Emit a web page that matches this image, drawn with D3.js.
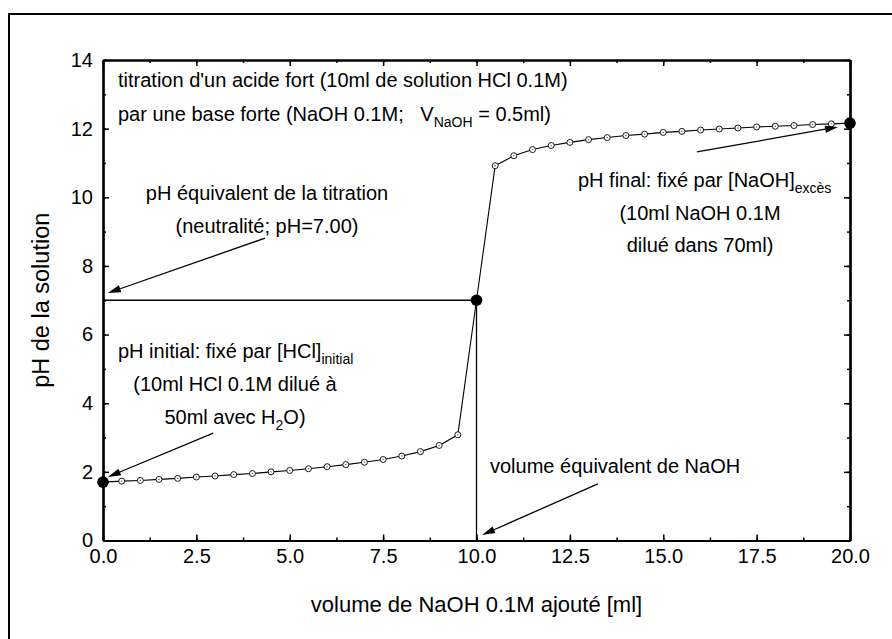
<!DOCTYPE html>
<html>
  <head>
    <meta charset="utf-8">
    <title>Titration acide fort / base forte</title>
    <script src="https://d3js.org/d3.v7.min.js"></script>
    <style>
      body { margin: 0; background: #fff; }
      svg text { font-family: "Liberation Sans", Arial, sans-serif; fill: #000; }
    </style>
  </head>
  <body>
    <div id="chart"></div>
    <script>
    // volumes de NaOH ajoutés (ml) et pH
    var volumes = [0, 0.5, 1, 1.5, 2, 2.5, 3, 3.5, 4, 4.5, 5, 5.5, 6, 6.5, 7, 7.5, 8, 8.5, 9, 9.5,
                   10, 10.5, 11, 11.5, 12, 12.5, 13, 13.5, 14, 14.5, 15, 15.5, 16, 16.5, 17, 17.5,
                   18, 18.5, 19, 19.5, 20];
    var pH = [1.70, 1.73, 1.75, 1.78, 1.81, 1.85, 1.88, 1.92, 1.95, 2.00, 2.04, 2.09, 2.15, 2.21,
              2.28, 2.36, 2.46, 2.59, 2.77, 3.08,
              7.00, 10.92, 11.21, 11.39, 11.51, 11.60, 11.68, 11.74, 11.80, 11.84, 11.89, 11.92,
              11.96, 11.99, 12.02, 12.05, 12.07, 12.09, 12.12, 12.14, 12.16];
    // points remarquables (pleins): initial, équivalence, final
    var keyVolumes = [0, 10, 20];
    var xTicks = [0, 2.5, 5, 7.5, 10, 12.5, 15, 17.5, 20];
    var yTicks = [0, 2, 4, 6, 8, 10, 12, 14];

    var W = 892, H = 639;
    var mLeft = 103, mRight = 850, mTop = 60, mBottom = 540.5;

    var svg = d3.select("#chart").append("svg")
      .attr("width", W).attr("height", H);

    // cadre extérieur
    svg.append("path")
      .attr("d", "M9,640 L9,14 L893,14")
      .attr("fill", "none").attr("stroke", "#000").attr("stroke-width", 2);

    var x = d3.scaleLinear().domain([0, 20]).range([mLeft, mRight]);
    var y = d3.scaleLinear().domain([0, 14]).range([mBottom, mTop]);

    var minorX = d3.range(0, 20.01, 1.25);
    var minorY = d3.range(0, 14.01, 1);

    function axis(gen, ticks, minor, tx, ty) {
      var g = svg.append("g").attr("transform", "translate(" + tx + "," + ty + ")");
      g.call(gen.tickValues(minor).tickSizeInner(3).tickSizeOuter(0).tickFormat(""));
      var g2 = svg.append("g").attr("transform", "translate(" + tx + "," + ty + ")");
      g2.call(gen.tickValues(ticks).tickSizeInner(6).tickSizeOuter(0).tickFormat(""));
      [g, g2].forEach(function(s) {
        s.select(".domain").attr("stroke-width", 2.2);
        s.selectAll(".tick line").attr("stroke-width", 1.5);
      });
    }

    // axes (graduations vers l'intérieur)
    axis(d3.axisTop(x), xTicks, minorX, 0, mBottom);
    axis(d3.axisBottom(x), xTicks, minorX, 0, mTop);
    axis(d3.axisRight(y), yTicks, minorY, mLeft, 0);
    axis(d3.axisLeft(y), yTicks, minorY, mRight, 0);

    var gxl = svg.append("g").attr("transform", "translate(0," + mBottom + ")")
      .call(d3.axisBottom(x).tickValues(xTicks).tickSize(0).tickPadding(8)
        .tickFormat(d3.format(".1f")));
    gxl.select(".domain").remove();
    gxl.selectAll("text").attr("font-size", 20).attr("font-family", null);

    var gyl = svg.append("g").attr("transform", "translate(" + mLeft + ",0)")
      .call(d3.axisLeft(y).tickValues(yTicks).tickSize(0).tickPadding(10));
    gyl.select(".domain").remove();
    gyl.selectAll("text").attr("font-size", 20).attr("font-family", null);

    // titres des axes
    svg.append("text")
      .attr("x", (mLeft + mRight) / 2).attr("y", 612)
      .attr("text-anchor", "middle").attr("font-size", 22)
      .text("volume de NaOH 0.1M ajouté [ml]");
    svg.append("text")
      .attr("transform", "translate(49," + ((mTop + mBottom) / 2) + ") rotate(-90)")
      .attr("text-anchor", "middle").attr("font-size", 23.5)
      .text("pH de la solution");

    // repères de l'équivalence
    svg.append("line")
      .attr("x1", x(0)).attr("x2", x(10)).attr("y1", y(7)).attr("y2", y(7))
      .attr("stroke", "#000").attr("stroke-width", 1.3);
    svg.append("line")
      .attr("x1", x(10)).attr("x2", x(10)).attr("y1", y(7)).attr("y2", y(0))
      .attr("stroke", "#000").attr("stroke-width", 1.3);

    // courbe de titrage
    var pts = volumes.map(function(v, i) { return [v, pH[i]]; });
    svg.append("path")
      .datum(pts)
      .attr("fill", "none").attr("stroke", "#000").attr("stroke-width", 1.1)
      .attr("d", d3.line().x(function(d) { return x(d[0]); }).y(function(d) { return y(d[1]); }));

    var open = pts.filter(function(d) { return keyVolumes.indexOf(d[0]) < 0; });
    var filled = pts.filter(function(d) { return keyVolumes.indexOf(d[0]) >= 0; });

    svg.selectAll("circle.open").data(open).enter().append("circle")
      .attr("class", "open")
      .attr("cx", function(d) { return x(d[0]); })
      .attr("cy", function(d) { return y(d[1]); })
      .attr("r", 3).attr("fill", "#fff").attr("stroke", "#000").attr("stroke-width", 0.9);
    svg.selectAll("circle.dot").data(open).enter().append("circle")
      .attr("class", "dot")
      .attr("cx", function(d) { return x(d[0]); })
      .attr("cy", function(d) { return y(d[1]); })
      .attr("r", 0.7).attr("fill", "#555");
    svg.selectAll("circle.key").data(filled).enter().append("circle")
      .attr("class", "key")
      .attr("cx", function(d) { return x(d[0]); })
      .attr("cy", function(d) { return y(d[1]); })
      .attr("r", 5.8).attr("fill", "#000");

    // flèches d'annotation (en unités du graphe)
    var arrows = [
      [4.34, 8.81, 0.13, 7.21],
      [15.9, 11.32, 19.68, 12.05],
      [2.95, 3.13, 0.13, 1.85],
      [13.25, 1.65, 10.15, 0.16]
    ];
    arrows.forEach(function(a) {
      var x1 = x(a[0]), y1 = y(a[1]), x2 = x(a[2]), y2 = y(a[3]);
      var ang = Math.atan2(y2 - y1, x2 - x1);
      var L = 13, hw = 3.6;
      var bx = x2 - L * Math.cos(ang), by = y2 - L * Math.sin(ang);
      svg.append("line")
        .attr("x1", x1).attr("y1", y1).attr("x2", bx).attr("y2", by)
        .attr("stroke", "#000").attr("stroke-width", 1.3);
      svg.append("path")
        .attr("d", "M" + x2 + "," + y2 +
          "L" + (bx + hw * Math.sin(ang)) + "," + (by - hw * Math.cos(ang)) +
          "L" + (bx - hw * Math.sin(ang)) + "," + (by + hw * Math.cos(ang)) + "Z")
        .attr("fill", "#000");
    });

    // textes
    function label(px, py, anchor, parts) {
      var t = svg.append("text").attr("x", px).attr("y", py)
        .attr("text-anchor", anchor).attr("font-size", 20);
      parts.forEach(function(p) {
        if (typeof p === "string") {
          t.append("tspan").text(p);
        } else {
          t.append("tspan").attr("font-size", 14).attr("dy", 6).text(p.sub);
          if (p.after) t.append("tspan").attr("dy", -6).text(p.after);
        }
      });
      return t;
    }

    label(118, 87, "start", ["titration d'un acide fort (10ml de solution HCl 0.1M)"]);
    label(118, 121, "start", ["par une base forte (NaOH 0.1M;\u00a0\u00a0\u00a0V", {sub: "NaOH", after: " = 0.5ml)"}]);

    label(267, 200, "middle", ["pH équivalent de la titration"]);
    label(267, 233, "middle", ["(neutralité; pH=7.00)"]);

    label(578, 187, "start", ["pH final: fixé par [NaOH]", {sub: "excès"}]);
    label(700, 220, "middle", ["(10ml NaOH 0.1M"]);
    label(700, 252, "middle", ["dilué dans 70ml)"]);

    label(118, 358, "start", ["pH initial: fixé par [HCl]", {sub: "initial"}]);
    label(235, 391, "middle", ["(10ml HCl 0.1M dilué à"]);
    label(235, 424, "middle", ["50ml avec H", {sub: "2", after: "O)"}]);

    label(490, 473, "start", ["volume équivalent de NaOH"]);
    </script>
  </body>
</html>
